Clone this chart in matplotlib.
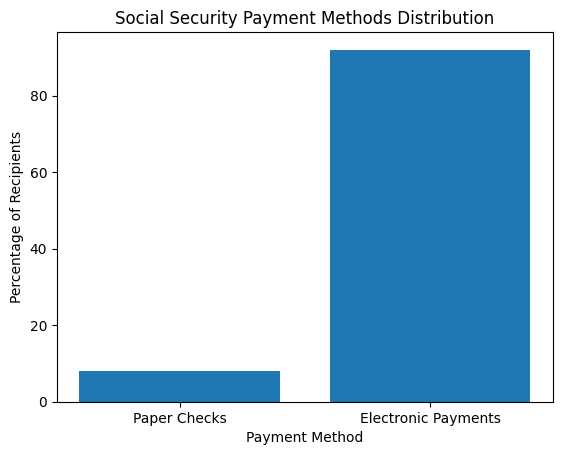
import matplotlib
matplotlib.use("Agg")
import matplotlib.pyplot as plt

categories = ["Paper Checks", "Electronic Payments"]
values = [8, 92]

fig, ax = plt.subplots(figsize=(6.4, 4.8), dpi=100)
ax.bar(categories, values, color="#1f77b4")
ax.set_title("Social Security Payment Methods Distribution")
ax.set_xlabel("Payment Method")
ax.set_ylabel("Percentage of Recipients")
fig.savefig("out.png", dpi=100, bbox_inches="tight")
